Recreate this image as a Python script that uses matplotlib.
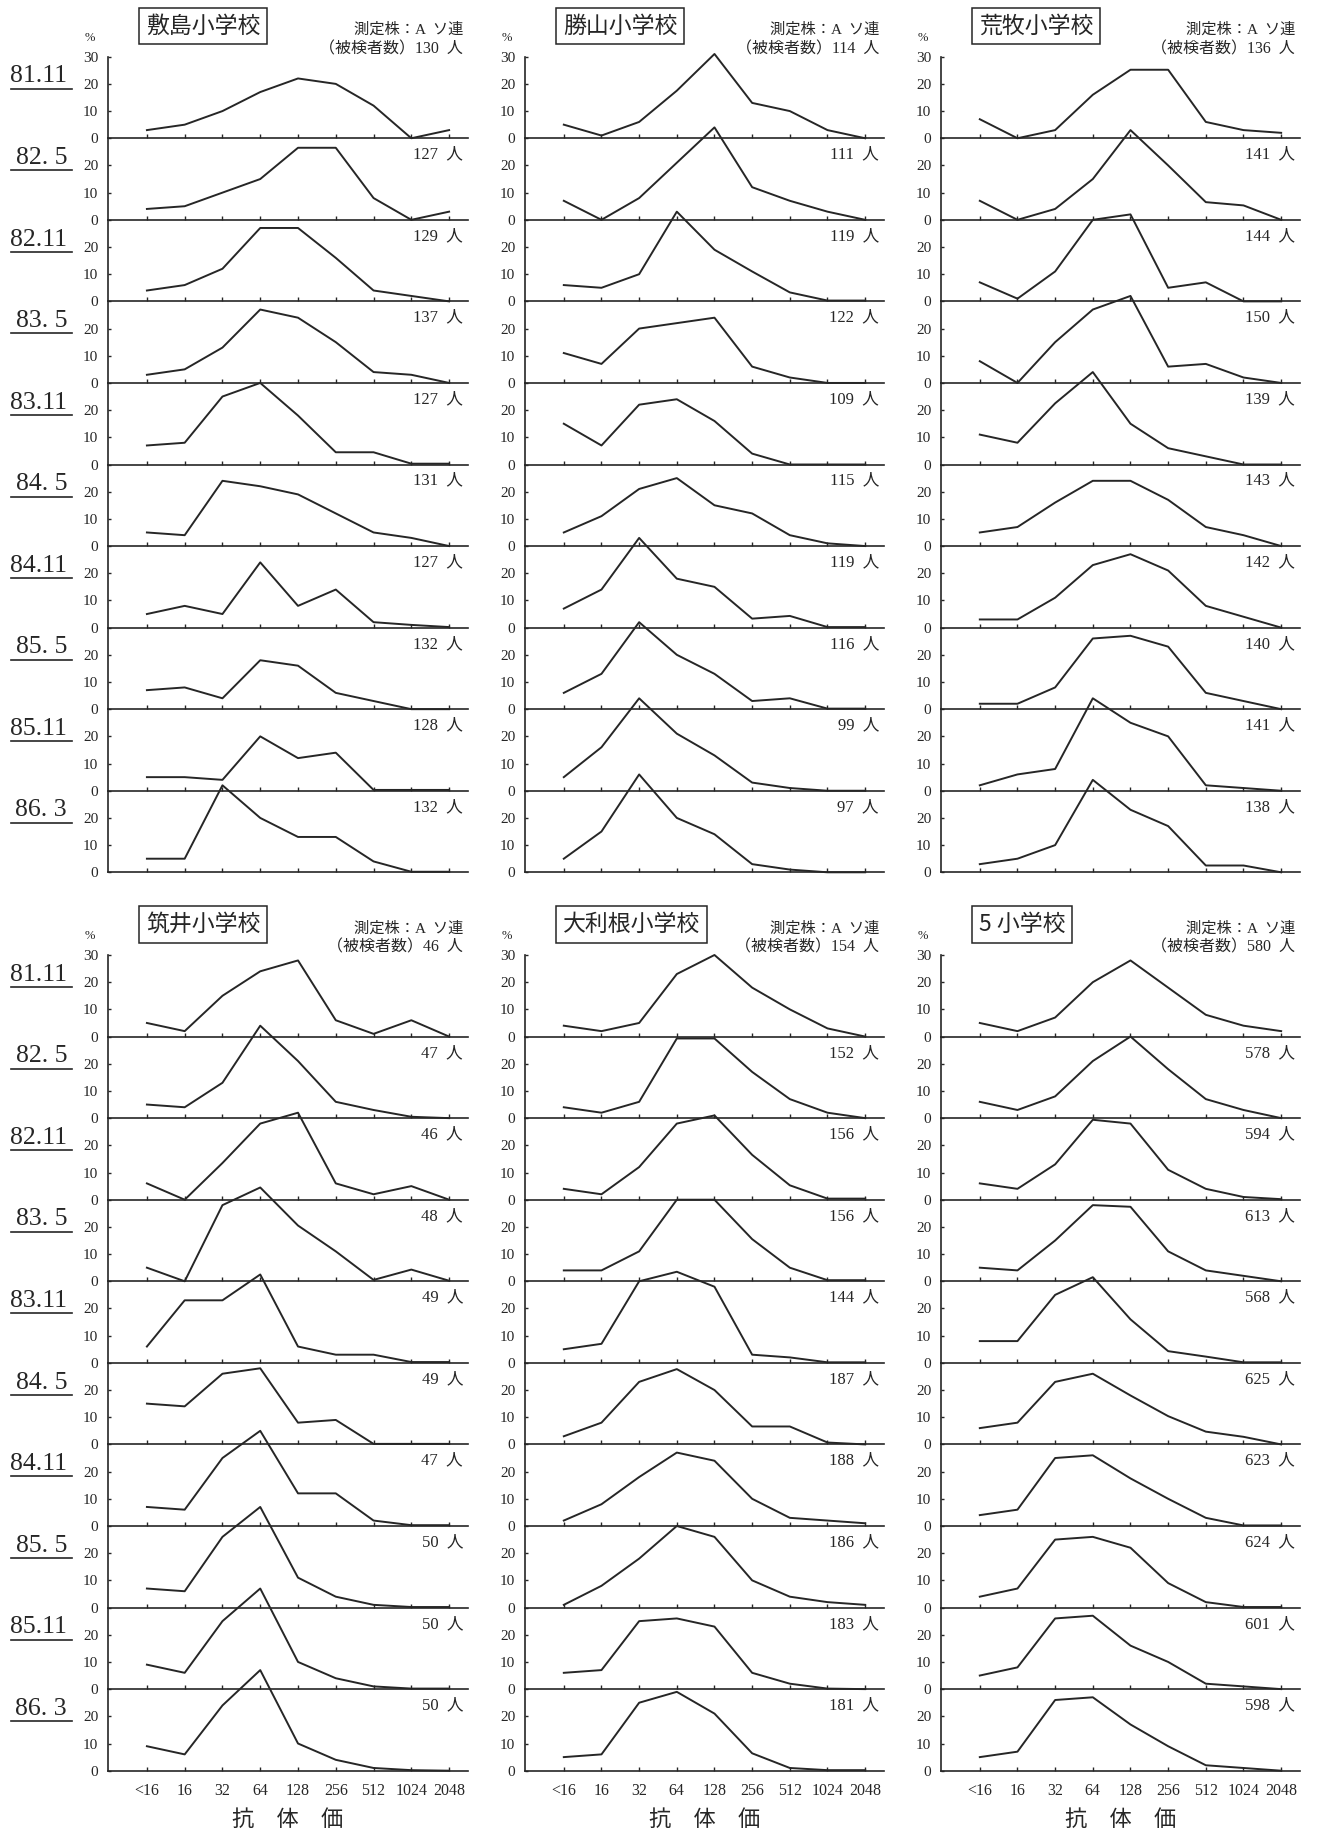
import matplotlib
matplotlib.use("Agg")
import matplotlib.pyplot as plt
from matplotlib.lines import Line2D

plt.rcParams['font.family'] = ['Liberation Serif', 'Noto Sans CJK JP']

titers = ['<16', '16', '32', '64', '128', '256', '512', '1024', '2048']
dates = ['81.11', '82. 5', '82.11', '83. 5', '83.11',
         '84. 5', '84.11', '85. 5', '85.11', '86. 3']

# antibody titer distribution (%), one row per survey
shikishima = [
    [3, 5, 10, 17, 22, 20, 12, 0, 3],
    [4, 5, 10, 15, 26.5, 26.5, 8, 0, 3],
    [4, 6, 12, 27, 27, 16, 4, 2, 0],
    [3, 5, 13, 27, 24, 15, 4, 3, 0],
    [7, 8, 25, 30, 18, 4.5, 4.5, 0.3, 0.3],
    [5, 4, 24, 22, 19, 12, 5, 3, 0],
    [5, 8, 5, 24, 8, 14, 2, 1, 0.2],
    [7, 8, 4, 18, 16, 6, 3, 0, 0],
    [5, 5, 4, 20, 12, 14, 0.3, 0.3, 0.3],
    [5, 5, 32, 20, 13, 13, 4, 0.2, 0.2],
]
katsuyama = [
    [5, 1, 6, 17.5, 31, 13, 10, 3, 0],
    [7, 0, 8, 21, 34, 12, 7, 3, 0],
    [6, 5, 10, 33, 19, 11, 3.3, 0.3, 0.3],
    [11, 7, 20, 22, 24, 6, 2, 0, 0],
    [15, 7, 22, 24, 16, 4, 0, 0, 0],
    [5, 11, 21, 25, 15, 12, 4, 1, 0],
    [7, 14, 33, 18, 15, 3.3, 4.3, 0.2, 0.2],
    [6, 13, 32, 20, 13, 3, 4, 0.2, 0.2],
    [5, 16, 34, 21, 13, 3, 1, 0, 0],
    [5, 15, 36, 20, 14, 3, 1, 0, 0],
]
aramaki = [
    [7, 0, 3, 16, 25.2, 25.2, 6, 3, 2],
    [7, 0, 4, 15, 33, 20, 6.5, 5.3, 0],
    [7, 1, 11, 30, 32, 5, 7, 0, 0],
    [8, 0, 15, 27, 32, 6, 7, 2, 0],
    [11, 8, 22.5, 34, 15, 6, 3, 0, 0],
    [5, 7, 16, 24, 24, 17, 7, 4, 0],
    [3, 3, 11, 23, 27, 21, 8, 4, 0],
    [2, 2, 8, 26, 27, 23, 6, 3, 0],
    [2, 6, 8, 34, 25, 20, 2, 1, 0],
    [3, 5, 10, 34, 23, 17, 2.5, 2.5, 0],
]
tsukui = [
    [5, 2, 15, 24, 28, 6, 1, 6, 0],
    [5, 4, 13, 34, 21, 6, 3, 0.5, 0],
    [6, 0, 13.5, 28, 32, 6, 2, 5, 0],
    [5, 0, 28, 34.5, 20.5, 11, 0.5, 4.3, 0.2],
    [6, 23, 23, 32.5, 6, 3, 3, 0.3, 0.3],
    [15, 14, 26, 28, 8, 9, 0.2, 0.2, 0.2],
    [7, 6, 25, 35, 12, 12, 2, 0.3, 0.3],
    [7, 6, 26, 37, 11, 4, 1, 0.2, 0.2],
    [9, 6, 25, 37, 10, 4, 1, 0.2, 0.2],
    [9, 6, 24, 37, 10, 4, 1, 0.2, 0],
]
otone = [
    [4, 2, 5, 23, 30, 18, 10, 3, 0],
    [4, 2, 6, 29.3, 29.3, 17, 7, 2, 0],
    [4, 2, 12, 28, 31, 16.5, 5.3, 0.4, 0.4],
    [4, 4, 11, 30, 30, 15.5, 5, 0.4, 0.4],
    [5, 7, 30, 33.5, 28, 3, 2, 0.2, 0.2],
    [3, 8, 23, 27.7, 20, 6.6, 6.6, 0.7, 0],
    [2, 8, 18, 27, 24, 10, 3, 2, 1],
    [1, 8, 18, 30, 26, 10, 4, 2, 1],
    [6, 7, 25, 26, 23, 6, 2, 0.2, 0],
    [5, 6, 25, 29, 21, 6.4, 1, 0.2, 0.2],
]
five_schools = [
    [5, 2, 7, 20, 28, 18, 8, 4, 2],
    [6, 3, 8, 21, 30, 18, 7, 3, 0],
    [6, 4, 13, 29.4, 28, 11, 4, 1, 0.2],
    [5, 4, 15, 28, 27.4, 11, 4, 2, 0],
    [8, 8, 25, 31.5, 16, 4.3, 2.3, 0.2, 0.2],
    [6, 8, 23, 26, 18, 10.4, 4.7, 2.8, 0],
    [4, 6, 25, 26, 17.5, 10, 3, 0.2, 0.2],
    [4, 7, 25, 26, 22, 9, 2, 0.2, 0.2],
    [5, 8, 26, 27, 16, 10, 2, 1, 0],
    [5, 7, 26, 27, 17, 9, 2, 1, 0],
]

# number of people tested per survey
n_shikishima = [130, 127, 129, 137, 127, 131, 127, 132, 128, 132]
n_katsuyama = [114, 111, 119, 122, 109, 115, 119, 116, 99, 97]
n_aramaki = [136, 141, 144, 150, 139, 143, 142, 140, 141, 138]
n_tsukui = [46, 47, 46, 48, 49, 49, 47, 50, 50, 50]
n_otone = [154, 152, 156, 156, 144, 187, 188, 186, 183, 181]
n_five = [580, 578, 594, 613, 568, 625, 623, 624, 601, 598]

blocks = [
    [('敷島小学校', shikishima, n_shikishima),
     ('勝山小学校', katsuyama, n_katsuyama),
     ('荒牧小学校', aramaki, n_aramaki)],
    [('筑井小学校', tsukui, n_tsukui),
     ('大利根小学校', otone, n_otone),
     ('5 小学校', five_schools, n_five)],
]

W, H = 1319, 1834
fig = plt.figure(figsize=(W / 100, H / 100), dpi=100)
ink = '#262626'

col_x = [(108, 468), (525, 884), (941, 1300)]
block_y = [(56.7, 872.3), (955, 1770.7)]


def fx(x):
    return x / W


def fy(y):
    return 1 - y / H


for b, block in enumerate(blocks):
    top, bottom = block_y[b]
    ph = (bottom - top) / 10
    for c, (name, rows, counts) in enumerate(block):
        x0, x1 = col_x[c]
        for i in range(10):
            y0 = top + i * ph
            ax = fig.add_axes([fx(x0), fy(y0 + ph), (x1 - x0) / W, ph / H])
            ax.set_facecolor('none')
            ax.plot(range(len(titers)), rows[i], color=ink, lw=1.4,
                    clip_on=False, zorder=5)
            ax.set_xlim(-1.03, 8.5)
            ax.set_ylim(0, 30)
            for s in ('top', 'right'):
                ax.spines[s].set_visible(False)
            for s in ('left', 'bottom'):
                ax.spines[s].set_color(ink)
                ax.spines[s].set_linewidth(1.2)
            ax.set_xticks(range(len(titers)))
            last = (b == 1 and i == 9)
            ax.set_xticklabels(titers if last else [])
            ax.tick_params(axis='x', direction='in', length=3, width=1,
                           color=ink, labelsize=11.5, pad=9, labelcolor=ink)
            ax.set_yticks([0, 10, 20, 30] if i == 0 else [0, 10, 20])
            ax.tick_params(axis='y', direction='in', length=2, width=1,
                           color=ink, labelsize=11, pad=7, labelcolor=ink)
            if i > 0:
                ax.text(1 - 5 / (x1 - x0), 0.8, f'{counts[i]}  人',
                        transform=ax.transAxes, ha='right', va='center',
                        fontsize=12, color=ink)
            if c == 0:
                fig.text(fx(67), fy(y0 + 19.7), dates[i], ha='right',
                         va='center', fontsize=18.5, color=ink)
                fig.add_artist(Line2D([fx(10.7), fx(71.7)],
                                      [fy(y0 + 32)] * 2, color=ink, lw=1.2))
            if last:
                fig.text(fx((x0 + x1) / 2), fy(1819), '抗　体　価',
                         ha='center', va='center', fontsize=16,
                         family='Noto Sans CJK JP', color=ink)

        # headers above the stack
        fig.text(fx(x0 + 38), fy(top - 30.7), name, ha='left', va='center',
                 fontsize=16.5, family='Noto Sans CJK JP', color=ink,
                 bbox=dict(boxstyle='square,pad=0.3', fc='white', ec=ink,
                           lw=1.1))
        fig.text(fx(x1 - 5), fy(top - 26.7), '測定株：A  ソ連', ha='right',
                 va='center', fontsize=11, color=ink)
        fig.text(fx(x1 - 5), fy(top - 7.4), f'（被検者数）{counts[0]}  人',
                 ha='right', va='center', fontsize=11.5, color=ink)
        fig.text(fx(x0 - 18), fy(top - 19), '%', ha='center', va='center',
                 fontsize=9, color=ink)

fig.savefig('out.png', dpi=100)
